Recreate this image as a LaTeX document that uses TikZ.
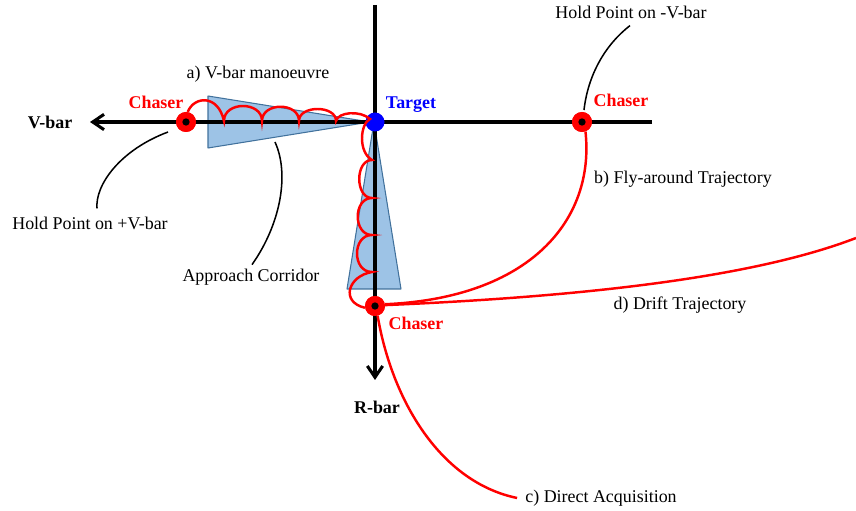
\documentclass[tikz,border=0pt]{standalone}
\usepackage{fontspec}
\setmainfont{Liberation Serif}
\usetikzlibrary{arrows.meta}
\definecolor{corrfill}{RGB}{157,195,230}
\definecolor{corrline}{RGB}{65,113,156}

\begin{document}
\begin{tikzpicture}[
  x=0.03cm,y=-0.03cm,
  font=\fontsize{15.3}{18}\selectfont,
  axis/.style={line width=2.6pt,-{Straight Barb[length=3.4mm,width=4.6mm]}},
  corr/.style={draw=corrline,line width=0.9pt,fill=corrfill,line join=round},
  traj/.style={draw=red,line width=2.1pt},
  lead/.style={draw=black,line width=1.3pt},
  chaser/.style={circle,fill=red,minimum size=6mm,inner sep=0pt,
                 path picture={\fill[black] (path picture bounding box.center) circle (1.1mm);}},
  target/.style={circle,fill=blue,minimum size=5.7mm,inner sep=0pt},
  lbl/.style={inner sep=0pt},
  tag/.style={lbl,font=\fontsize{15.3}{18}\selectfont\bfseries}
]
\useasboundingbox (0,0) rectangle (856,511);
% ---------- approach corridors ----------
\draw[corr] (208,96) -- (370,122) -- (208,148) -- cycle;
\draw[corr] (374,122) -- (401,289) -- (347,289) -- cycle;
% ---------- axes ----------
\coordinate (hR) at (652,122);
\coordinate (hL) at (90,122);
\coordinate (vT) at (375,5);
\coordinate (vB) at (375,380);
\draw[axis] (hR) -- (hL);
\draw[axis] (vT) -- (vB);
% ---------- target and chasers ----------
\node[target] (tgt) at (375,122) {};
\node[chaser] (cL) at (186,122) {};
\node[chaser] (cR) at (582,122) {};
\node[chaser] (cB) at (375,306) {};
% ---------- labels ----------
\node[tag] (lV) at (50,122) {V-bar};
\node[tag] (lR) at (377,407) {R-bar};
\node[tag,text=red] (lcL) at (156,102) {Chaser};
\node[tag,text=red] (lcR) at (621,100) {Chaser};
\node[tag,text=red] (lcB) at (416,323) {Chaser};
\node[tag,text=blue] (lT) at (411,105) {Target};
\node[lbl] (lA) at (258,74) {a) V-bar manoeuvre};
\node[lbl] (lHPm) at (631,12) {Hold Point on -V-bar};
\node[lbl] (lB) at (683,179) {b) Fly-around Trajectory};
\node[lbl] (lHPp) at (90,223) {Hold Point on +V-bar};
\node[lbl] (lAC) at (251,277) {Approach Corridor};
\node[lbl] (lD) at (680,305) {d) Drift Trajectory};
\node[lbl] (lC) at (601,498) {c) Direct Acquisition};
% ---------- (a) V-bar hops, then R-bar hops ----------
\draw[traj] (cL.80) .. controls (194,96) and (218,94) .. (224,121)
  .. controls (224,101) and (262,101) .. (262,121)
  .. controls (262,102) and (299,102) .. (299,121)
  .. controls (299,105) and (336,105) .. (336,121)
  .. controls (338,112) and (360,110) .. (370,119)
  .. controls (360,124) and (358,152) .. (372,160)
  .. controls (355,160) and (355,198) .. (372,198)
  .. controls (353,198) and (353,235) .. (372,235)
  .. controls (352,235) and (352,272) .. (372,272)
  .. controls (348,276) and (340,302) .. (cB.190);
% ---------- (b) fly-around ----------
\draw[traj] (cR.-70) .. controls (595,220) and (530,298) .. (cB.10);
% ---------- (c) direct acquisition ----------
\draw[traj] (cB.-75) .. controls (392,400) and (440,482) .. ([xshift=-2.4mm]lC.west);
% ---------- (d) drift ----------
\coordinate (dEnd) at (856,238);
\draw[traj] (cB.5) .. controls (600,296) and (760,275) .. (dEnd);
% ---------- leader lines ----------
\coordinate (kHPp) at (168,132);
\coordinate (kAC) at (275,142);
\coordinate (kHPm) at (584,110);
\draw[lead] ([shift={(7,-8)}]lHPp.north) .. controls (95,185) and (120,150) .. (kHPp);
\draw[lead] ([shift={(1,-4)}]lAC.north) .. controls (280,225) and (290,175) .. (kAC);
\draw[lead] ([shift={(-1,7)}]lHPm.south) .. controls (605,45) and (588,75) .. (kHPm);
% redraw chasers on top of the trajectories
\node[chaser] at (cL) {};
\node[chaser] at (cR) {};
\node[chaser] at (cB) {};
\end{tikzpicture}
\end{document}
